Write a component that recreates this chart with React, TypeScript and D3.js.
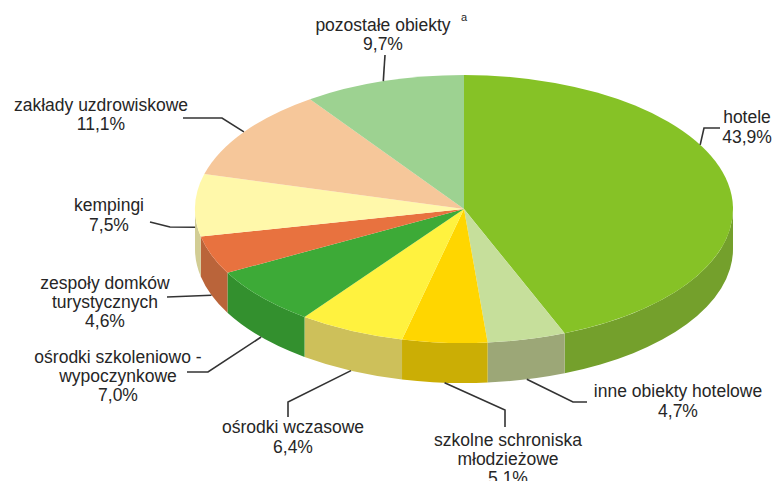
import React from "react";
import * as d3 from "d3";

// ---- data ----
const categories = [
  "hotele",
  "inne obiekty hotelowe",
  "szkolne schroniska młodzieżowe",
  "ośrodki wczasowe",
  "ośrodki szkoleniowo - wypoczynkowe",
  "zespoły domków turystycznych",
  "kempingi",
  "zakłady uzdrowiskowe",
  "pozostałe obiekty",
];
const values = [43.9, 4.7, 5.1, 6.4, 7.0, 4.6, 7.5, 11.1, 9.7];
const valueLabels = ["43,9%", "4,7%", "5,1%", "6,4%", "7,0%", "4,6%", "7,5%", "11,1%", "9,7%"];
const nameLines = [
  ["hotele"],
  ["inne obiekty hotelowe"],
  ["szkolne schroniska", "młodzieżowe"],
  ["ośrodki wczasowe"],
  ["ośrodki szkoleniowo -", "wypoczynkowe"],
  ["zespoły domków", "turystycznych"],
  ["kempingi"],
  ["zakłady uzdrowiskowe"],
  ["pozostałe obiekty"],
];

// ---- styles ----
const topColors = ["#86C226", "#C6DF9B", "#FFD600", "#FFF23F", "#3DAA37", "#E8723F", "#FFF8AA", "#F6C79A", "#9DD291"];
const sideColors = ["#74A02C", "#9CA777", "#CBAE05", "#CDC05A", "#33902E", "#BA643A", "#D2CD94", "#C49E7A", "#7EA874"];

// ---- layout ----
const W = 776, H = 481;
const cx = 464, cy = 209, rx = 269, ry = 134, depth = 40;
const labelLayout = [
  { x: 747, ys: [123, 143], anchorDeg: 61.4, z: 0, pts: [[704, 128], [720, 128]] },
  { x: 678, ys: [397, 417], anchorDeg: null, z: 1, pts: [[573, 402], [587, 402]] },
  { x: 508, ys: [446, 465, 484], anchorDeg: null, z: 1, pts: [[505, 410], [505, 427]] },
  { x: 293, ys: [433, 453], anchorDeg: null, z: 1, pts: [[288, 402], [288, 417]] },
  { x: 118, ys: [363, 382, 401], anchorDeg: null, z: 1, pts: [[208, 372], [187, 372]] },
  { x: 105, ys: [289, 308, 327], anchorDeg: null, z: 1, pts: [[167, 297]] },
  { x: 109, ys: [211, 231], anchorDeg: null, z: 0.55, pts: [[170, 227], [150, 222]] },
  { x: 101, ys: [111, 130], anchorDeg: null, z: 0, pts: [[222, 118], [183, 118]] },
  { x: 383, ys: [31, 50], anchorDeg: null, z: 0, pts: [[385, 55]] },
];

export default function App() {
  const k = ry / rx;
  const arcs = d3.pie<number>().sort(null).value((d) => d)(values);
  const arcGen = d3.arc<d3.PieArcDatum<number>>().innerRadius(0).outerRadius(rx);
  const D = depth / k;

  const sidePath = (a: d3.PieArcDatum<number>) => {
    const s = Math.max(a.startAngle, Math.PI / 2);
    const e = Math.min(a.endAngle, (3 * Math.PI) / 2);
    if (s >= e) return null;
    const p = d3.path();
    const s0 = s - Math.PI / 2, e0 = e - Math.PI / 2;
    p.moveTo(rx * Math.cos(s0), rx * Math.sin(s0));
    p.arc(0, 0, rx, s0, e0, false);
    p.lineTo(rx * Math.cos(e0), rx * Math.sin(e0) + D);
    p.arc(0, D, rx, e0, s0, true);
    p.closePath();
    return p.toString();
  };

  const anchor = (i: number) => {
    const a = arcs[i];
    const L = labelLayout[i];
    const th = L.anchorDeg != null ? (L.anchorDeg * Math.PI) / 180 : (a.startAngle + a.endAngle) / 2;
    return [cx + rx * Math.sin(th), cy - ry * Math.cos(th) + L.z * depth];
  };

  const font = "'Liberation Sans', Arial, sans-serif";

  return (
    <svg width={W} height={H} style={{ position: "absolute", left: 0, top: 0, background: "#fff" }}>
      <g transform={`translate(${cx},${cy}) scale(1,${k})`}>
        {arcs.map((a, i) => {
          const d = sidePath(a);
          return d ? <path key={"s" + i} d={d} fill={sideColors[i]} /> : null;
        })}
        {arcs.map((a, i) => (
          <path key={"t" + i} d={arcGen(a) || ""} fill={topColors[i]} />
        ))}
      </g>
      {labelLayout.map((L, i) => {
        const pts = [anchor(i), ...L.pts];
        const lines = [...nameLines[i], valueLabels[i]];
        return (
          <g key={"l" + i}>
            <polyline points={pts.map((p) => p.join(",")).join(" ")} fill="none" stroke="#333" strokeWidth={1.6} />
            {lines.map((t, j) => (
              <text key={j} x={L.x} y={L.ys[j]} textAnchor="middle" fontFamily={font} fontSize={17.5} fill="#262626">
                {t}
              </text>
            ))}
          </g>
        );
      })}
      <text x={461} y={21} fontFamily={font} fontSize={11} fill="#262626">a</text>
    </svg>
  );
}
